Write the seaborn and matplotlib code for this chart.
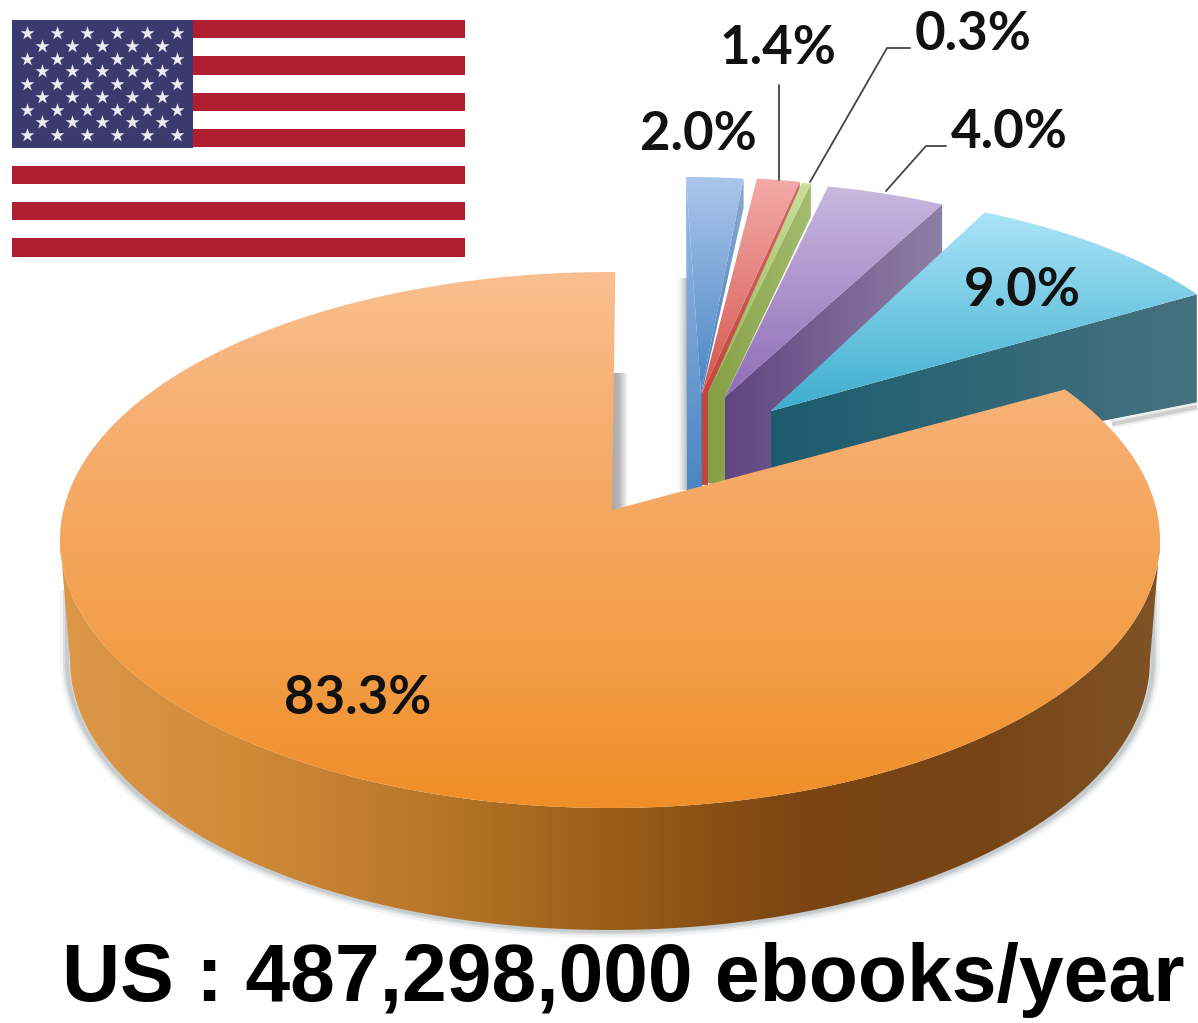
import numpy as np
import matplotlib
matplotlib.use('Agg')
import matplotlib.pyplot as plt
from matplotlib.patches import Polygon, Rectangle
import seaborn as sns

# shares, clockwise from 12 o'clock
slice_names = ['blue', 'red', 'green', 'purple', 'cyan', 'orange']
shares = [2.0, 1.4, 0.3, 4.0, 9.0, 83.3]
share_labels = ['2.0%', '1.4%', '0.3%', '4.0%', '9.0%', '83.3%']
title_text = 'US : 487,298,000 ebooks/year'

# per slice look: ellipse centre, radii, tip, wall depth at tip and at rim
ell = {'blue': (686, 387, 460, 210), 'red': (695, 387, 494, 210),
       'green': (698, 388, 490, 210), 'purple': (716, 385, 486, 204),
       'cyan': (739, 400, 528, 212)}
tips = {'blue': (701, 393), 'red': (702, 393), 'green': (708, 393),
        'purple': (725, 397), 'cyan': (771, 411)}
depths = {'blue': (97, 29), 'red': (92, 18), 'green': (90, 33),
          'purple': (85, 52), 'cyan': (75, 108)}
top_cols = {'blue': ('#ABC6EC', '#4A86C2'), 'red': ('#F4ABA8', '#D4564F'),
            'green': ('#CBE19C', '#8FAF4F'), 'purple': ('#C8B9DF', '#8E6DB6'),
            'cyan': ('#ABE4F8', '#3DAECD')}
wall_cols = {'blue': ('#4A80B8', '#8AA8D0'), 'red': ('#C4443E', '#D06A64'),
             'green': ('#84A044', '#A4BC70'), 'purple': ('#614580', '#8F80A6'),
             'cyan': ('#1B5C6E', '#47717F')}
label_pos = [(698, 135), (778, 48), (973, 34), (1009, 132), (1022, 290), (358, 698)]

sns.set_theme(style='white')
fig = plt.figure(figsize=(11.98, 10.23), dpi=100)
ax = fig.add_axes([0, 0, 1, 1])
ax.set_axis_off()


def arc(cx, cy, rx, ry, a0, a1, n=120):
    t = np.radians(np.linspace(a0, a1, n))
    return np.column_stack([cx + rx * np.sin(t), cy - ry * np.cos(t)])


def grad_fill(verts, cols, vertical=True, zorder=2):
    verts = np.asarray(verts)
    cmap = sns.blend_palette(list(cols), as_cmap=True)
    g = np.linspace(0, 1, 256)
    g = g[:, None] if vertical else g[None, :]
    x0, x1 = verts[:, 0].min(), verts[:, 0].max()
    y0, y1 = verts[:, 1].min(), verts[:, 1].max()
    im = ax.imshow(g, cmap=cmap, extent=(x0, x1, y1, y0), aspect='auto',
                   origin='upper', zorder=zorder, interpolation='bilinear')
    im.set_clip_path(Polygon(verts, closed=True, transform=ax.transData))
    return im


# angles from the shares
edges = np.concatenate([[0], np.cumsum(shares)]) * 3.6

# soft drop shadows
sh = np.vstack([[(1153, 590)], arc(610, 660, 543, 271, 90, 270), [(67, 590)]])
for lw, al in [(10, .12), (6, .22), (3, .35)]:
    ax.plot(sh[:, 0], sh[:, 1], color='#9AA2A8', lw=lw, alpha=al, zorder=1, solid_capstyle='butt')
grad_fill([(678, 278), (687, 278), (687, 490), (678, 490)], ('#FFFFFF', '#BDBDBD'), vertical=False, zorder=1)
grad_fill([(610, 373), (628, 373), (628, 512), (610, 512)], ('#A8A8A8', '#B5B5B5', '#FFFFFF'), vertical=False, zorder=1)
for lw, al in [(6, .15), (3, .3)]:
    ax.plot([1112, 1197], [424, 407], color='#8A8A8A', lw=lw, alpha=al, zorder=1, solid_capstyle='butt')

# exploded slices, back to front
for i, name in enumerate(slice_names[:-1]):
    cx, cy, rx, ry = ell[name]
    tip = np.array(tips[name], dtype=float)
    d_tip, d_rim = depths[name]
    rim = arc(cx, cy, rx, ry, edges[i], edges[i + 1])
    z = 2 + i
    if name == 'blue':
        grad_fill([rim[0], tip, tip + (0, d_tip), (rim[0][0] + 1, tip[1] + d_tip)],
                  ('#9DBCE6', '#4A86C2'), zorder=z)
    end = rim[-1]
    wall = [tip, end, end + (0, d_rim)]
    if name != 'cyan':
        # wall bends down where the next slice begins
        knee = np.array(tips[slice_names[i + 1]], dtype=float)
        wall += [knee, knee + (0, d_tip)]
    wall += [tip + (0, d_tip)]
    grad_fill(wall, wall_cols[name], vertical=False, zorder=z)
    grad_fill(np.vstack([[tip], rim]), top_cols[name], zorder=z)

# big slice
cx, cy, rx, ry = 610, 540, 550, 268
tip = (612, 510)
start = edges[5] - 4.3
rim = arc(cx, cy, rx, ry, start, edges[6] + 0.55, 300)
side_top = arc(cx, cy, rx, ry, 90, 270)
side_bot = arc(cx, 660, 540, 270, 270, 90)
grad_fill(np.vstack([side_top, side_bot]),
          ('#DC9749', '#D08A38', '#B8772A', '#9A5E18', '#7B4612', '#774414', '#7F5326'),
          vertical=False, zorder=8)
grad_fill(np.vstack([[tip], rim]), ('#F9BF90', '#F6AC6B', '#F3A04C', '#F08E28'), zorder=9)

# leader lines
ax.plot([779, 779], [85, 180], color='#444444', lw=1.3, zorder=11)
ax.plot([810, 887, 910], [182, 48, 48], color='#444444', lw=1.3, zorder=11)
ax.plot([886, 926, 946], [191, 146, 146], color='#444444', lw=1.3, zorder=11)

for lab, (x, y) in zip(share_labels, label_pos):
    ax.text(x, y, lab, ha='center', va='center', fontsize=38, fontweight='bold',
            family='Lato', color='#111111', zorder=12)

ax.text(623, 980, title_text, ha='center', va='center', fontsize=58, fontweight='bold',
        family='Liberation Sans', color='black', zorder=12)

# flag
flag_red, flag_blue = '#B01E32', '#3A3A6E'
for k in range(7):
    ax.add_patch(Rectangle((12, 20 + k * 36.4), 453, 18.2, color=flag_red, lw=0, zorder=3))
ax.add_patch(Rectangle((12, 20), 181, 127.6, color=flag_blue, lw=0, zorder=4))
sx, sy = [], []
for r in range(9):
    n = 6 if r % 2 == 0 else 5
    for c in range(n):
        sx.append(27 + c * 30 + (0 if r % 2 == 0 else 15))
        sy.append(33 + r * 12.75)
ax.scatter(sx, sy, marker='*', s=110, color='#ECECF2', linewidths=0, zorder=5)

ax.set_xlim(0, 1198)
ax.set_ylim(1023, 0)
fig.savefig('out.png', dpi=100, facecolor='white')
